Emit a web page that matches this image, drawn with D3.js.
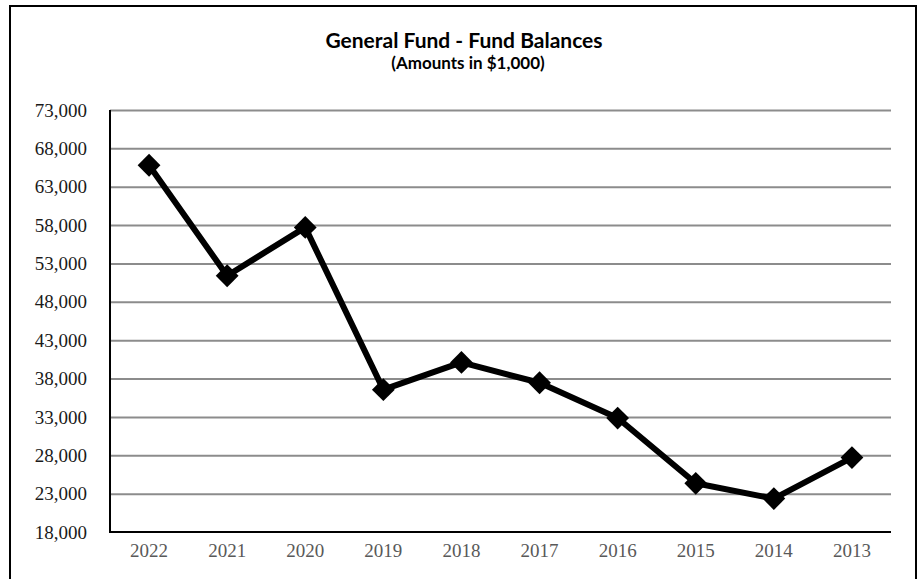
<!DOCTYPE html>
<html>
<head>
<meta charset="utf-8">
<script src="https://cdn.jsdelivr.net/npm/d3@7"></script>
<style>
  html, body { margin: 0; padding: 0; background: #fff; }
  svg { display: block; }
</style>
</head>
<body>
<svg id="chart" width="919" height="579"></svg>
<script>
const years = ["2022","2021","2020","2019","2018","2017","2016","2015","2014","2013"];
const balances = [65800, 51400, 57700, 36550, 40100, 37450, 32850, 24350, 22350, 27700];
const yTicks = [18000, 23000, 28000, 33000, 38000, 43000, 48000, 53000, 58000, 63000, 68000, 73000];
const titleLines = ["General Fund - Fund Balances", "(Amounts in $1,000)"];

const svg = d3.select("#chart");
const plot = { left: 110, right: 891, top: 110, bottom: 532 };

// outer border (bottom edge runs off the canvas)
svg.append("rect")
  .attr("x", 10).attr("y", 6)
  .attr("width", 906).attr("height", 600)
  .attr("fill", "#fff").attr("stroke", "#000").attr("stroke-width", 2);

const x = d3.scaleBand().domain(years).range([plot.left, plot.right]);
const y = d3.scaleLinear().domain([18000, 73000]).range([plot.bottom, plot.top]);

// gridlines
const grid = d3.axisLeft(y).tickValues(yTicks.slice(1)).tickSize(-(plot.right - plot.left)).tickFormat("");
svg.append("g").attr("transform", `translate(${plot.left},0)`).call(grid)
  .call(g => g.select(".domain").remove())
  .call(g => g.selectAll("line").attr("stroke", "#8c8c8c").attr("stroke-width", 2));

// y axis labels
const yAxis = d3.axisLeft(y).tickValues(yTicks).tickSize(0).tickPadding(23).tickFormat(d3.format(","));
svg.append("g").attr("transform", `translate(${plot.left},0)`).call(yAxis)
  .call(g => g.select(".domain").remove())
  .call(g => g.selectAll("text")
    .attr("font-family", "'Liberation Serif', 'Times New Roman', serif")
    .attr("font-size", 19).attr("fill", "#1a1a1a"));

// x axis labels
const xAxis = d3.axisBottom(x).tickSize(0).tickPadding(12);
svg.append("g").attr("transform", `translate(0,${plot.bottom})`).call(xAxis)
  .call(g => g.select(".domain").remove())
  .call(g => g.selectAll("text")
    .attr("font-family", "'Liberation Serif', 'Times New Roman', serif")
    .attr("font-size", 19).attr("fill", "#595959"));

// axis lines
svg.append("line").attr("x1", plot.left).attr("x2", plot.left)
  .attr("y1", plot.top).attr("y2", plot.bottom)
  .attr("stroke", "#000").attr("stroke-width", 2);
svg.append("line").attr("x1", plot.left - 1).attr("x2", plot.right)
  .attr("y1", plot.bottom).attr("y2", plot.bottom)
  .attr("stroke", "#000").attr("stroke-width", 2);

// line
const data = years.map((yr, i) => ({ yr, v: balances[i] }));
const cx = d => x(d.yr) + x.bandwidth() / 2;
svg.append("path").datum(data)
  .attr("fill", "none").attr("stroke", "#000").attr("stroke-width", 6)
  .attr("stroke-linejoin", "round")
  .attr("d", d3.line().x(cx).y(d => y(d.v)));

// diamond markers
const diamond = d3.symbol().type(d3.symbolSquare).size(260);
svg.append("g").selectAll("path").data(data).join("path")
  .attr("d", diamond)
  .attr("transform", d => `translate(${cx(d)},${y(d.v)}) rotate(45)`)
  .attr("fill", "#000");

// title
svg.append("text").attr("x", 464).attr("y", 48)
  .attr("text-anchor", "middle")
  .attr("font-family", "Lato, 'Open Sans', sans-serif").attr("font-weight", "bold")
  .attr("font-size", 21).attr("fill", "#000")
  .text(titleLines[0]);
svg.append("text").attr("x", 468).attr("y", 69)
  .attr("text-anchor", "middle")
  .attr("font-family", "Lato, 'Open Sans', sans-serif").attr("font-weight", "bold")
  .attr("font-size", 17).attr("fill", "#000")
  .text(titleLines[1]);
</script>
</body>
</html>
